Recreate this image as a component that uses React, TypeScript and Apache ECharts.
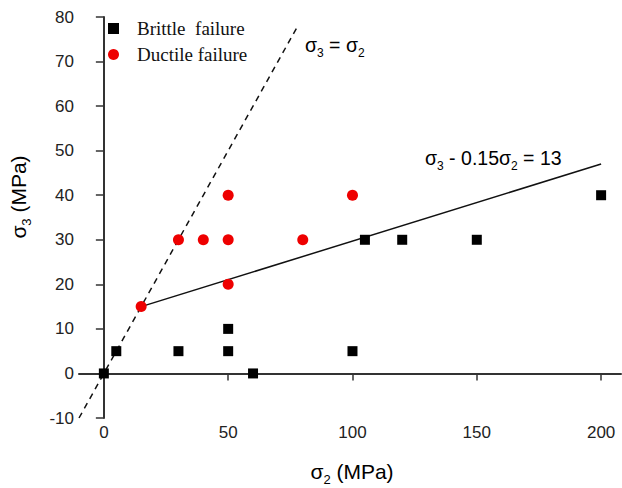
import React, { useEffect, useRef } from "react";
import * as echarts from "echarts";

// Failure test results (σ2, σ3 in MPa)
const brittleSigma2 = [0, 5, 30, 50, 50, 60, 100, 105, 120, 150, 200];
const brittleSigma3 = [0, 5, 5, 5, 10, 0, 5, 30, 30, 30, 40];
const ductileSigma2 = [15, 30, 40, 50, 50, 50, 80, 100];
const ductileSigma3 = [15, 30, 30, 40, 30, 20, 30, 40];

// Reference lines
const equalLineSigma2 = [-10, 78];
const equalLineSigma3 = [-10, 78];
const fitLineSigma2 = [15, 200];
const fitLineSigma3 = [15, 47];

const xTickValues = [0, 50, 100, 150, 200];
const legendNames = ["Brittle  failure", "Ductile failure"];

const SANS = "Liberation Sans, Arial, sans-serif";
const SERIF = "Liberation Serif, Times New Roman, serif";
const INK = "#222";

const pairs = (xs: number[], ys: number[]) => xs.map((x, i) => [x, ys[i]]);

const subRich = (size: number) => ({
  m: { fontFamily: SANS, fontSize: size, color: INK, lineHeight: size + 8 },
  s: { fontFamily: SANS, fontSize: Math.round(size * 0.6), color: INK, verticalAlign: "bottom" as const },
});

export default function App() {
  const ref = useRef<HTMLDivElement>(null);

  useEffect(() => {
    if (!ref.current) return;
    const chart = echarts.init(ref.current, null, { renderer: "svg" });
    chart.setOption({
      animation: false,
      backgroundColor: "#fff",
      grid: { left: 79, top: 17, right: 1, bottom: 70 },
      legend: {
        orient: "vertical",
        left: 103,
        top: 14,
        itemWidth: 11,
        itemHeight: 11,
        itemGap: 7,
        textStyle: { fontFamily: SERIF, fontSize: 19, color: "#111", padding: [0, 0, 0, 13] },
        data: legendNames,
      },
      xAxis: {
        type: "value",
        min: -10,
        max: 208,
        axisLine: { show: true, lineStyle: { color: "#333", width: 2 } },
        axisTick: { show: true, length: 7, customValues: xTickValues, lineStyle: { color: "#333", width: 1.5 } },
        axisLabel: { customValues: xTickValues, fontFamily: SANS, fontSize: 17, color: INK, margin: 6 },
        splitLine: { show: false },
      },
      yAxis: {
        type: "value",
        min: -10,
        max: 80,
        interval: 10,
        axisLine: { show: true, lineStyle: { color: "#333", width: 2 } },
        axisTick: { show: true, length: 8, lineStyle: { color: "#333", width: 1.5 } },
        axisLabel: { fontFamily: SANS, fontSize: 17, color: INK, margin: 5 },
        splitLine: { show: false },
      },
      series: [
        {
          name: "σ3 = σ2",
          type: "line",
          data: pairs(equalLineSigma2, equalLineSigma3),
          symbol: "none",
          lineStyle: { color: "#111", width: 1.5, type: [6, 5] },
          z: 1,
        },
        {
          name: "fit",
          type: "line",
          data: pairs(fitLineSigma2, fitLineSigma3),
          symbol: "none",
          lineStyle: { color: "#111", width: 1.5 },
          z: 1,
        },
        {
          name: legendNames[0],
          type: "scatter",
          data: pairs(brittleSigma2, brittleSigma3),
          symbol: "rect",
          symbolSize: 10,
          itemStyle: { color: "#000", opacity: 1 },
          z: 3,
        },
        {
          name: legendNames[1],
          type: "scatter",
          data: pairs(ductileSigma2, ductileSigma3),
          symbol: "circle",
          symbolSize: 11,
          itemStyle: { color: "#ee0000", opacity: 1 },
          z: 3,
        },
      ],
      graphic: [
        {
          type: "text",
          x: 18,
          y: 197,
          rotation: Math.PI / 2,
          style: { text: "{m|σ}{s|3}{m| (MPa)}", rich: subRich(21), align: "center", verticalAlign: "middle" },
        },
        {
          type: "text",
          x: 352,
          y: 471,
          style: { text: "{m|σ}{s|2}{m| (MPa)}", rich: subRich(21), align: "center", verticalAlign: "middle" },
        },
        {
          type: "text",
          x: 305,
          y: 45,
          style: { text: "{m|σ}{s|3}{m| = σ}{s|2}", rich: subRich(19.5), align: "left", verticalAlign: "middle" },
        },
        {
          type: "text",
          x: 425,
          y: 158,
          style: { text: "{m|σ}{s|3}{m| - 0.15σ}{s|2}{m| = 13}", rich: subRich(19.5), align: "left", verticalAlign: "middle" },
        },
      ],
    });
    return () => chart.dispose();
  }, []);

  return <div ref={ref} style={{ position: "absolute", left: 0, top: 0, width: 622, height: 488 }} />;
}
